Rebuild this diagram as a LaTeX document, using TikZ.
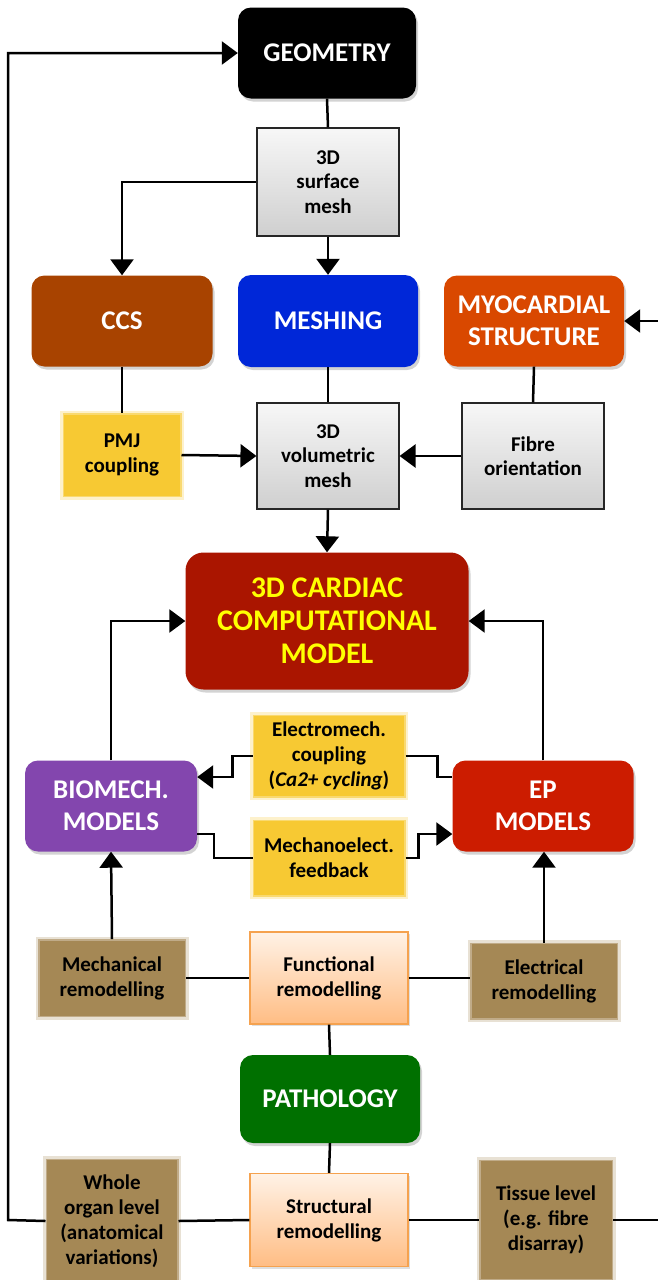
\documentclass[tikz,border=0pt]{standalone}
\usepackage{fontspec}
\setmainfont{Carlito}
\usetikzlibrary{arrows.meta,shadows,calc}
\definecolor{cgeo}{HTML}{000000}
\definecolor{cccs}{HTML}{A84300}
\definecolor{cmesh}{HTML}{0027D8}
\definecolor{cmyo}{HTML}{D94800}
\definecolor{cyel}{HTML}{F7C933}
\definecolor{ccard}{HTML}{AA1500}
\definecolor{cyeltxt}{HTML}{FFFF00}
\definecolor{cbio}{HTML}{8346AE}
\definecolor{cep}{HTML}{CC1C00}
\definecolor{cbrown}{HTML}{A58855}
\definecolor{cpath}{HTML}{007000}
\definecolor{cpeachtop}{HTML}{FFF2E6}
\definecolor{cpeachbot}{HTML}{FFBD84}
\definecolor{cpeachbd}{HTML}{F5A24F}
\definecolor{cgraytop}{HTML}{F7F7F7}
\definecolor{cgraybot}{HTML}{CFCFCF}
\tikzset{
  big/.style={rounded corners=13pt, text=white, align=center, inner sep=0pt,
    font=\bfseries\fontsize{27}{32}\selectfont,
    drop shadow={opacity=0.35, shadow xshift=2pt, shadow yshift=-3pt}},
  graybox/.style={draw=black!85, line width=1.1pt, top color=cgraytop, bottom color=cgraybot,
    align=center, inner sep=0pt, font=\bfseries\fontsize{21}{24.5}\selectfont},
  fuzzy/.style={fill=#1, draw=#1, draw opacity=0.6, line width=3pt, align=center, inner sep=0pt,
    preaction={draw=#1, draw opacity=0.25, line width=8pt},
    font=\bfseries\fontsize{21}{25}\selectfont},
  peach/.style={draw=cpeachbd, line width=1.4pt, top color=cpeachtop, bottom color=cpeachbot,
    align=center, inner sep=0pt, font=\bfseries\fontsize{21}{25}\selectfont,
    drop shadow={opacity=0.25, shadow xshift=2pt, shadow yshift=-2pt}},
  conn/.style={line width=2.5pt, black},
  arr/.style={conn, -{Triangle[length=16pt,width=23pt]}},
}
\begin{document}
\begin{tikzpicture}[x=1pt,y=-1pt]
\useasboundingbox (0,0) rectangle (658,1280);
% nodes
\node[big, fill=cgeo, minimum width=178pt, minimum height=91pt] (geo) at (327,53) {GEOMETRY};
\node[graybox, minimum width=142pt, minimum height=108pt] (smesh) at (328,182) {3D\\surface\\mesh};
\node[big, fill=cccs, minimum width=181pt, minimum height=91pt] (ccs) at (122,321) {CCS};
\node[big, fill=cmesh, minimum width=180pt, minimum height=92pt] (mesh) at (328,321) {MESHING};
\node[big, fill=cmyo, minimum width=180pt, minimum height=91pt] (myo) at (534,321) {MYOCARDIAL\\STRUCTURE};
\node[fuzzy=cyel, minimum width=116pt, minimum height=81pt] (pmj) at (122,455) {PMJ\\coupling};
\node[graybox, minimum width=142pt, minimum height=106pt] (vmesh) at (328,456) {3D\\volumetric\\mesh};
\node[graybox, minimum width=142pt, minimum height=106pt] (fibre) at (533,456) {Fibre\\orientation};
\node[big, rounded corners=18pt, fill=ccard, text=cyeltxt, minimum width=283pt, minimum height=137pt,
  font=\bfseries\fontsize{30}{33}\selectfont] (card) at (327,621) {3D CARDIAC\\COMPUTATIONAL\\MODEL};
\node[fuzzy=cyel, minimum width=150pt, minimum height=80pt] (electro) at (329,756) {Electromech.\\coupling\\(\textit{Ca2+ cycling})};
\node[fuzzy=cyel, minimum width=150pt, minimum height=74pt] (mechano) at (329,858) {Mechanoelect.\\feedback};
\node[big, fill=cbio, minimum width=172pt, minimum height=91pt] (bio) at (111,806) {BIOMECH.\\MODELS};
\node[big, fill=cep, minimum width=181pt, minimum height=91pt] (ep) at (543,806) {EP\\MODELS};
\node[fuzzy=cbrown, minimum width=145pt, minimum height=75pt] (mechrem) at (112,978) {Mechanical\\remodelling};
\node[peach, minimum width=158pt, minimum height=92pt] (funcrem) at (329,978) {Functional\\remodelling};
\node[fuzzy=cbrown, minimum width=145pt, minimum height=74pt] (elecrem) at (544,981) {Electrical\\remodelling};
\node[big, fill=cpath, minimum width=180pt, minimum height=88pt] (path) at (330,1099) {PATHOLOGY};
\node[fuzzy=cbrown, minimum width=130pt, minimum height=122pt] (whole) at (112,1221) {Whole\\organ level\\(anatomical\\variations)};
\node[peach, minimum width=158pt, minimum height=93pt] (struct) at (329,1220) {Structural\\remodelling};
\node[fuzzy=cbrown, minimum width=131pt, minimum height=118pt] (tissue) at (546,1220) {Tissue level\\(e.g. fibre\\disarray)};
% helper coordinates
\coordinate (lc) at (8,1220);
\coordinate (rc) at (675,1220);
% connectors
\draw[conn] (geo.south) -- (smesh.north);
\draw[arr] (smesh.west) -| (ccs.north);
\draw[arr] (smesh.south) -- (mesh.north);
\draw[conn] (ccs.south) -- (pmj.north);
\draw[conn] (mesh.south) -- (vmesh.north);
\draw[conn] (myo.south) -- (fibre.north);
\draw[arr] (pmj.east) -- (vmesh.west);
\draw[arr] (fibre.west) -- (vmesh.east);
\draw[arr] (vmesh.south) -- (card.north);
\draw[arr] (bio.north) |- (card.west);
\draw[arr] (ep.north) |- (card.east);
\draw[arr] (electro.west) -- ++(-20,0) |- ([yshift=29pt]bio.east);
\draw[conn] (electro.east) -- ++(32,0) |- ([yshift=29pt]ep.west);
\draw[conn] ([yshift=-28pt]bio.east) -- ++(17,0) |- (mechano.west);
\draw[arr] (mechano.east) -- ++(13,0) |- ([yshift=-28pt]ep.west);
\draw[arr] (mechrem.north) -- (bio.south);
\draw[arr] (elecrem.north) -- (elecrem.north |- ep.south);
\draw[conn] (mechrem.east) -- (funcrem.west);
\draw[conn] (funcrem.east) -- (funcrem.east -| elecrem.west);
\draw[conn] (funcrem.south) -- (path.north);
\draw[conn] (path.south) -- (struct.north);
\draw[arr] (whole.west) -- (lc) |- (geo.west);
\draw[conn] (whole.east) -- (struct.west);
\draw[conn] (struct.east) -- (tissue.west);
\draw[arr] (tissue.east) -- (rc) |- (myo.east);
\end{tikzpicture}
\end{document}
